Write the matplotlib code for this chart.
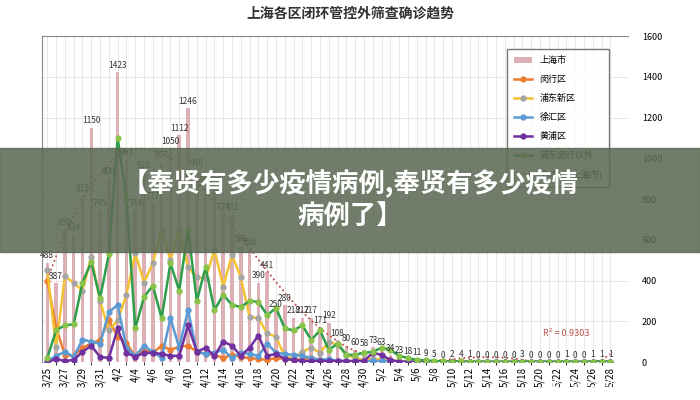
import numpy as np
import matplotlib
matplotlib.use("Agg")
import matplotlib.pyplot as plt
from matplotlib import font_manager as fm
import datetime as dt

names = sorted({f.name for f in fm.fontManager.ttflist})
cands = [n for n in names if 'Sans CJK' in n]
cjk = 'Noto Sans CJK SC' if 'Noto Sans CJK SC' in cands else (cands[0] if cands else 'DejaVu Sans')
plt.rcParams['font.family'] = 'sans-serif'
plt.rcParams['font.sans-serif'] = [cjk, 'DejaVu Sans']

start = dt.date(2022, 3, 25)
dates = [start + dt.timedelta(days=i) for i in range(65)]
date_labels = [f"{d.month}/{d.day}" for d in dates]

shanghai = [488, 387, 650, 624, 815, 1150, 745, 900, 1423, 993, 744, 928, 777, 977, 1050, 1112,
            1246, 940, 856, 872, 724, 722, 566, 550, 390, 441, 250, 280, 218, 217, 217, 171,
            192, 108, 80, 60, 58, 73, 63, 34, 23, 18, 11, 9, 5, 0, 2, 4, 1, 0, 0, 0, 0, 0,
            3, 0, 0, 0, 0, 1, 0, 0, 1, 1, 1]
minhang = [400, 170, 35, 30, 70, 90, 110, 205, 125, 95, 25, 60, 45, 80, 60, 75, 80, 50, 40, 35,
           20, 35, 25, 20, 15, 10, 20, 15, 10, 15, 20, 10, 5, 5, 3, 2, 3, 5, 4, 2, 1, 1, 0, 0,
           0, 0, 0, 0, 0, 0, 0, 0, 0, 0, 0, 0, 0, 0, 0, 0, 0, 0, 0, 0, 0]
pudong = [450, 75, 420, 390, 350, 515, 300, 155, 205, 330, 535, 390, 485, 650, 500, 650, 465,
          415, 410, 550, 370, 525, 415, 220, 215, 140, 125, 25, 20, 50, 70, 45, 100, 85, 35,
          20, 10, 15, 12, 8, 5, 3, 2, 1, 1, 0, 0, 1, 0, 0, 0, 0, 0, 0, 1, 0, 0, 0, 0, 0, 0, 0,
          0, 0, 0]
xuhui = [5, 30, 50, 25, 110, 100, 90, 245, 280, 70, 30, 80, 50, 20, 215, 70, 255, 50, 40, 45,
         60, 20, 45, 40, 30, 90, 45, 40, 35, 30, 20, 10, 15, 5, 5, 3, 3, 5, 5, 2, 1, 1, 0, 0, 0,
         0, 0, 0, 0, 0, 0, 0, 0, 0, 0, 0, 0, 0, 0, 0, 0, 0, 0, 0, 0]
huangpu = [0, 15, 5, 10, 50, 80, 25, 20, 165, 45, 25, 45, 45, 40, 30, 30, 180, 50, 70, 30, 100,
           80, 30, 70, 130, 30, 40, 15, 10, 5, 5, 5, 5, 5, 5, 5, 5, 45, 35, 10, 2, 1, 0, 0, 0,
           0, 0, 0, 0, 0, 0, 0, 0, 0, 0, 0, 0, 0, 0, 0, 0, 0, 0, 0, 0]
others = [20, 155, 180, 185, 390, 490, 313, 530, 1100, 800, 165, 320, 375, 215, 485, 350, 650,
          300, 465, 255, 330, 280, 270, 300, 295, 230, 265, 165, 155, 180, 108, 155, 60, 90,
          35, 35, 45, 50, 70, 60, 30, 20, 10, 8, 5, 3, 2, 3, 1, 0, 0, 0, 0, 0, 2, 0, 0, 0, 0,
          1, 0, 0, 1, 1, 1]

x = np.arange(len(dates))
fig = plt.figure(figsize=(7, 4), dpi=100)
ax = fig.add_axes([0.06, 0.095, 0.837, 0.815])

bars = ax.bar(x, shanghai, width=0.4, color='#dcb0b4', label='上海市', zorder=2)
for v_i, v in enumerate(shanghai):
    ax.text(v_i, v + 12, str(v), ha='center', va='bottom', fontsize=6, color='#333333', zorder=6)

series = [(minhang, '#ed7d31', '#ed7d31', '闵行区'),
          (pudong, '#f5c232', '#a5a5a5', '浦东新区'),
          (xuhui, '#5b9bd5', '#5b9bd5', '徐汇区'),
          (huangpu, '#7030a0', '#7030a0', '黄浦区'),
          (others, '#2e9e4a', '#8bc34a', '浦东闵行以外')]
handles = [bars]
for vals, c, mc, lab in series:
    h, = ax.plot(x, vals, color=c, lw=1.8, marker='o', ms=3.5, mfc=mc, mec=mc, label=lab, zorder=4)
    handles.append(h)

coef = np.polyfit(x, shanghai, 6)
fit = np.clip(np.polyval(coef, x), 0, None)
h, = ax.plot(x, fit, color='#c0504d', ls=':', lw=1.3, label='多项式 (上海市)', zorder=3)
handles.append(h)
ax.text(59, 130, 'R² = 0.9303', color='#c0504d', fontsize=6.5, ha='center')

ax.set_xlim(-0.6, 66)
ax.set_ylim(0, 1600)
ax.yaxis.tick_right()
ax.set_yticks(range(0, 1601, 200))
ax.tick_params(axis='y', length=0, labelsize=6.5, pad=10)
ax.set_xticks(x[::2])
ax.set_xticklabels(date_labels[::2], rotation=90, fontsize=7)
ax.tick_params(axis='x', length=0)
ax.set_xticks(x, minor=True)
ax.grid(True, which='both', axis='x', color='#e4e4e4', lw=0.6, zorder=0)
ax.grid(True, axis='y', color='#e4e4e4', lw=0.6, zorder=0)
ax.set_axisbelow(True)
for s in ['right', 'bottom']:
    ax.spines[s].set_visible(False)
for s in ['left', 'top']:
    ax.spines[s].set_color('#888888')

ax.legend(handles=handles, loc='upper right', bbox_to_anchor=(0.975, 0.975), fontsize=6.5,
          frameon=True, fancybox=False, edgecolor='#555555', borderpad=0.8, labelspacing=1.1)

fig.text(0.5, 0.965, '上海各区闭环管控外筛查确诊趋势', ha='center', va='center',
         fontsize=10, fontweight='bold', color='#333333')

fig.patches.append(plt.Rectangle((0, 0.37), 1, 0.26, transform=fig.transFigure,
                                 color='#5d6b55', alpha=0.88, zorder=10))
fig.text(0.5, 0.5, '【奉贤有多少疫情病例,奉贤有多少疫情\n病例了】', ha='center', va='center',
         fontsize=19, fontweight='bold', color='white', zorder=11, linespacing=1.25)
fig.text(0.87, 0.03, '知乎 @ 似水浮木', ha='center', va='center', fontsize=12,
         color='white', alpha=0.85, zorder=11)

fig.savefig('out.png', dpi=100)
